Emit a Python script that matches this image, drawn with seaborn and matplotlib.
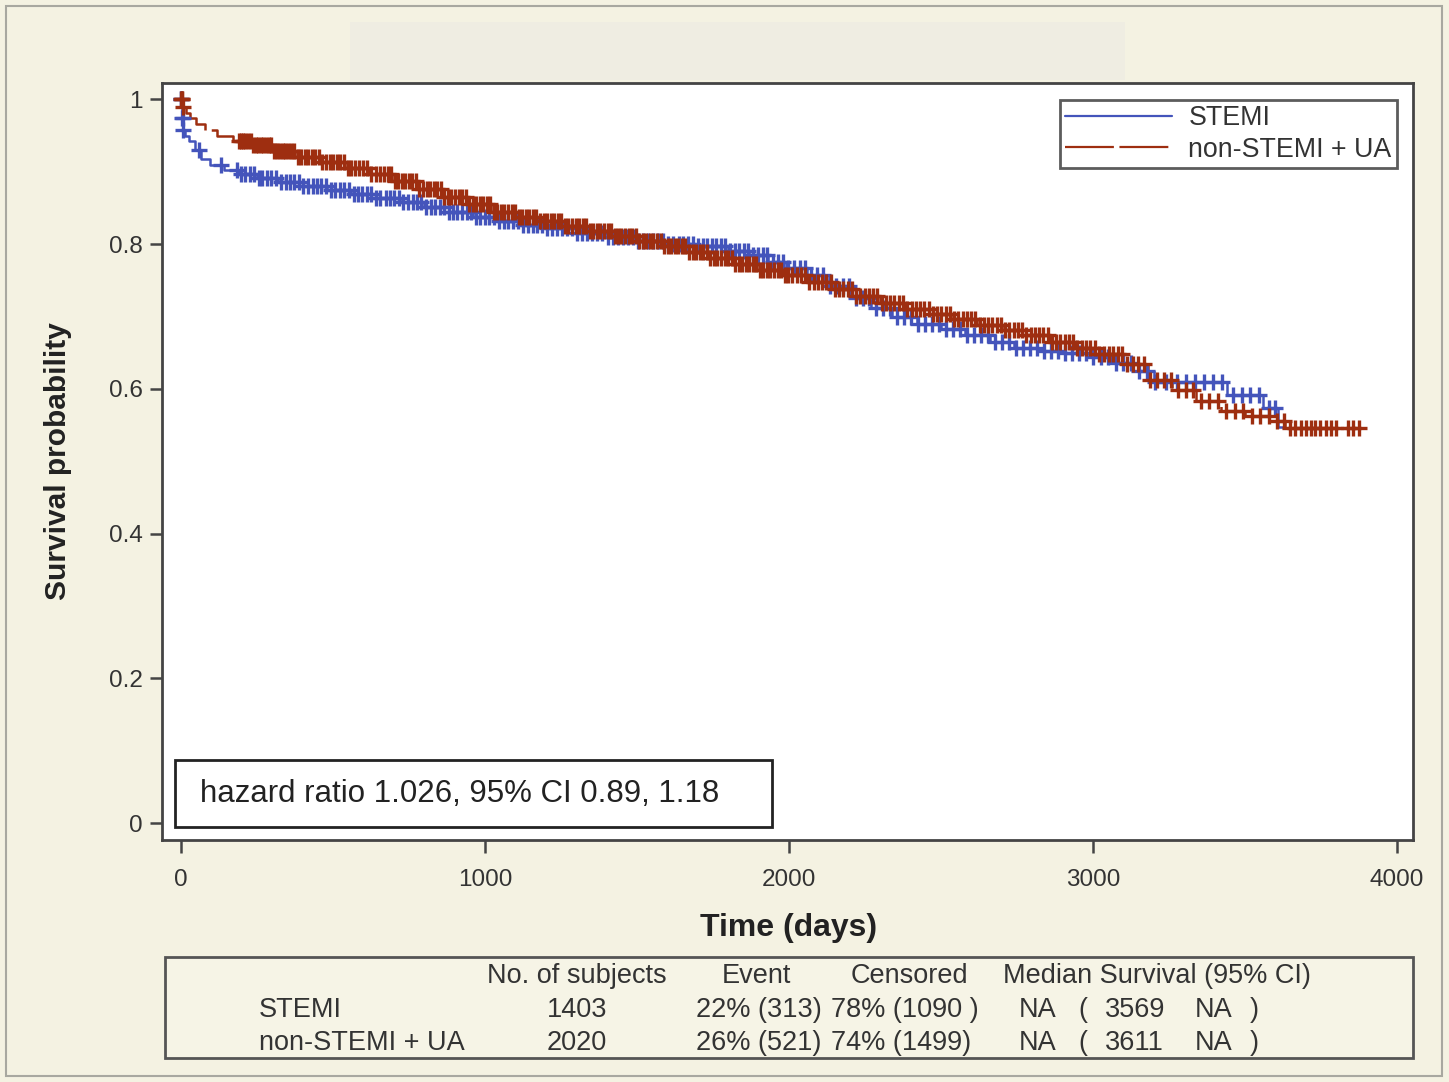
import numpy as np
import pandas as pd
import matplotlib
matplotlib.use("Agg")
import matplotlib.pyplot as plt
from matplotlib.patches import Rectangle
from matplotlib.lines import Line2D
import seaborn as sns

# ---------------- data ----------------
groups = ["STEMI", "non-STEMI + UA"]

stemi_time = [0, 2, 6, 12, 25, 45, 65, 95, 140, 190, 250, 320, 400, 480, 560, 640,
              720, 800, 880, 960, 1040, 1120, 1200, 1300, 1400, 1500, 1600, 1700,
              1800, 1870, 1930, 1990, 2060, 2130, 2200, 2270, 2340, 2420, 2500,
              2580, 2660, 2740, 2820, 2900, 2980, 3060, 3130, 3200, 3440, 3560,
              3610, 3625]
stemi_surv = [1.0, 0.975, 0.958, 0.950, 0.942, 0.930, 0.918, 0.910, 0.903, 0.897,
              0.892, 0.886, 0.880, 0.875, 0.870, 0.864, 0.858, 0.851, 0.845, 0.838,
              0.832, 0.827, 0.822, 0.815, 0.810, 0.805, 0.800, 0.797, 0.791, 0.785,
              0.776, 0.767, 0.757, 0.742, 0.726, 0.712, 0.700, 0.690, 0.683, 0.674,
              0.665, 0.657, 0.653, 0.649, 0.644, 0.636, 0.625, 0.610, 0.592, 0.574,
              0.548, 0.548]

nstemi_time = [0, 5, 15, 30, 50, 80, 120, 170, 230, 300, 380, 460, 540, 620, 700,
               780, 860, 940, 1020, 1100, 1180, 1260, 1340, 1420, 1500, 1580, 1660,
               1740, 1820, 1900, 1980, 2060, 2140, 2220, 2300, 2380, 2460, 2540,
               2620, 2700, 2780, 2860, 2940, 3020, 3100, 3180, 3260, 3340, 3420,
               3500, 3580, 3630, 3880]
nstemi_surv = [1.0, 0.99, 0.982, 0.974, 0.966, 0.958, 0.950, 0.943, 0.937, 0.929,
               0.921, 0.913, 0.905, 0.897, 0.888, 0.876, 0.865, 0.855, 0.845, 0.838,
               0.832, 0.825, 0.818, 0.811, 0.805, 0.797, 0.789, 0.781, 0.773, 0.764,
               0.757, 0.748, 0.738, 0.728, 0.719, 0.711, 0.704, 0.697, 0.689, 0.682,
               0.674, 0.665, 0.657, 0.648, 0.634, 0.612, 0.598, 0.583, 0.570, 0.562,
               0.556, 0.546, 0.546]

stemi_censor = [0, 1, 3, 5, 8, 60, 130, 185, 196, 210, 228, 241, 255, 268, 284, 297,
                313, 330, 346, 358, 371, 388, 402, 419, 433, 447, 462, 478, 494, 507,
                522, 536, 551, 568, 583, 597, 611, 626, 640, 656, 673, 688, 702, 716,
                731, 748, 762, 777, 791, 806, 822, 836, 851, 866, 881, 895, 909, 924,
                940, 955, 969, 984, 999, 1014, 1030, 1046, 1061, 1077, 1092, 1108,
                1124, 1141, 1157, 1172, 1188, 1205, 1221, 1238, 1254, 1270, 1287,
                1303, 1320, 1336, 1353, 1370, 1386, 1403, 1420, 1437, 1453, 1470,
                1487, 1503, 1520, 1537, 1553, 1570, 1586, 1603, 1620, 1637, 1652,
                1668, 1684, 1700, 1716, 1731, 1746, 1761, 1776, 1791, 1806, 1821,
                1836, 1851, 1866, 1881, 1897, 1913, 1929, 1946, 1963, 1980, 1998,
                2016, 2035, 2054, 2073, 2093, 2113, 2134, 2155, 2176, 2198, 2220,
                2242, 2264, 2287, 2310, 2333, 2356, 2379, 2402, 2425, 2448, 2471,
                2494, 2517, 2540, 2563, 2586, 2609, 2632, 2655, 2678, 2701, 2724,
                2747, 2770, 2793, 2816, 2839, 2862, 2885, 2908, 2931, 2954, 2977,
                3000, 3025, 3050, 3075, 3100, 3125, 3150, 3178, 3205, 3240, 3275,
                3305, 3335, 3365, 3395, 3425, 3460, 3490, 3515, 3545, 3580, 3600]
nstemi_censor = [0, 2, 4, 6, 190, 197, 205, 212, 220, 229, 237, 246, 254, 263, 271,
                 280, 289, 297, 306, 316, 325, 334, 343, 353, 362, 373, 384, 396, 407,
                 419, 430, 442, 453, 465, 477, 489, 501, 513, 524, 536, 548, 560, 572,
                 585, 598, 612, 626, 640, 654, 667, 680, 692, 703, 715, 726, 738, 749,
                 761, 773, 784, 796, 808, 819, 831, 843, 854, 866, 878, 889, 901, 913,
                 924, 936, 948, 959, 971, 983, 994, 1006, 1018, 1029, 1041, 1053, 1064,
                 1076, 1088, 1099, 1111, 1123, 1134, 1146, 1158, 1169, 1181, 1193,
                 1204, 1216, 1228, 1239, 1251, 1263, 1274, 1286, 1298, 1309, 1321,
                 1333, 1344, 1356, 1368, 1379, 1391, 1403, 1414, 1426, 1438, 1449,
                 1461, 1473, 1484, 1496, 1508, 1519, 1531, 1543, 1554, 1566, 1578,
                 1589, 1601, 1613, 1624, 1636, 1648, 1659, 1671, 1683, 1694, 1706,
                 1718, 1729, 1741, 1753, 1764, 1776, 1788, 1799, 1811, 1823, 1834,
                 1846, 1858, 1869, 1881, 1893, 1904, 1916, 1928, 1939, 1951, 1963,
                 1974, 1986, 1998, 2011, 2025, 2039, 2053, 2067, 2081, 2095, 2109,
                 2123, 2137, 2151, 2165, 2179, 2193, 2207, 2221, 2235, 2249, 2263,
                 2277, 2291, 2305, 2319, 2333, 2347, 2361, 2375, 2389, 2403, 2417,
                 2431, 2445, 2459, 2473, 2487, 2501, 2515, 2529, 2543, 2557, 2571,
                 2585, 2599, 2613, 2627, 2641, 2655, 2669, 2683, 2697, 2711, 2725,
                 2739, 2753, 2767, 2781, 2795, 2809, 2823, 2837, 2851, 2865, 2879,
                 2893, 2907, 2921, 2935, 2949, 2963, 2977, 2991, 3006, 3021, 3036,
                 3051, 3066, 3081, 3097, 3113, 3131, 3149, 3168, 3188, 3210, 3232,
                 3256, 3280, 3305, 3330, 3356, 3383, 3410, 3438, 3466, 3494, 3522,
                 3550, 3578, 3604, 3628, 3648, 3666, 3683, 3700, 3716, 3731, 3748,
                 3766, 3784, 3800, 3838, 3856, 3874]

x_ticks = [0, 1000, 2000, 3000, 4000]
x_ticklabels = ["0", "1000", "2000", "3000", "4000"]
y_ticks = [0, 0.2, 0.4, 0.6, 0.8, 1.0]
y_ticklabels = ["0", "0.2", "0.4", "0.6", "0.8", "1"]

hr_text = "hazard ratio 1.026, 95% CI 0.89, 1.18"
tbl_header = ["No. of subjects", "Event", "Censored", "Median Survival (95% CI)"]
tbl_rows = ["STEMI", "non-STEMI + UA"]
tbl_subjects = ["1403", "2020"]
tbl_event = ["22% (313)", "26% (521)"]
tbl_censored = ["78% (1090 )", "74% (1499)"]
tbl_median = ["NA", "NA"]
tbl_lower = ["3569", "3611"]
tbl_upper = ["NA", "NA"]

# ---------------- style ----------------
W, H = 1449, 1082
BG = "#f4f2e2"
BLUE = "#4454bb"
RED = "#9e2e10"
SPINE = "#444444"
TXT = "#2e2e2e"

sns.set_theme(style="white")
plt.rcParams["font.family"] = ["Liberation Sans", "DejaVu Sans"]

fig = plt.figure(figsize=(W / 100, H / 100), dpi=100, facecolor=BG)

def fx(px):
    return px / W

def fy(py):
    return 1 - py / H

# outer frame and blank title strip
fig.add_artist(Rectangle((fx(6), fy(1076)), fx(1436), 1070 / H, transform=fig.transFigure,
                         facecolor="none", edgecolor="#a8a8a0", linewidth=1.5))
fig.add_artist(Rectangle((fx(350), fy(80)), fx(775), 58 / H, transform=fig.transFigure,
                         facecolor="#efede2", edgecolor="none"))

ax_l, ax_r, ax_t, ax_b = 162, 1413, 83, 840
ax = fig.add_axes([fx(ax_l), fy(ax_b), fx(ax_r - ax_l), (ax_b - ax_t) / H])
ax.set_facecolor("white")

xpx_per_day = 304 / 1000
x0_px = 181
ax.set_xlim((ax_l - x0_px) / xpx_per_day, (ax_r - x0_px) / xpx_per_day)
ypx = 723.5
y0_px = 823
ax.set_ylim((y0_px - ax_b) / ypx, (y0_px - ax_t) / ypx)

series = [
    (groups[0], stemi_time, stemi_surv, stemi_censor, BLUE, None),
    (groups[1], nstemi_time, nstemi_surv, nstemi_censor, RED, (22, 2.5)),
]

for name, t, s, cens, col, dash in series:
    df = pd.DataFrame({"time": t, "surv": s})
    kw = {}
    if dash is not None:
        kw["dashes"] = dash
    sns.lineplot(data=df, x="time", y="surv", ax=ax, color=col, linewidth=1.8,
                 drawstyle="steps-post", estimator=None, sort=False, **kw)
    t_arr = np.asarray(t)
    s_arr = np.asarray(s)
    idx = np.searchsorted(t_arr, np.asarray(cens), side="right") - 1
    cdf = pd.DataFrame({"time": cens, "surv": s_arr[idx]})
    sns.scatterplot(data=cdf, x="time", y="surv", ax=ax, marker="+", s=130,
                    color=col, linewidth=2.4, zorder=3)

ax.set_xticks(x_ticks)
ax.set_xticklabels(x_ticklabels)
ax.set_yticks(y_ticks)
ax.set_yticklabels(y_ticklabels)
ax.set_xlabel("")
ax.set_ylabel("")
ax.tick_params(axis="both", which="major", direction="out", length=9, width=1.8,
               color=SPINE, labelcolor="#333333", labelsize=17.5, left=True, bottom=True)
ax.tick_params(axis="y", pad=5)
ax.tick_params(axis="x", pad=12)
for sp in ax.spines.values():
    sp.set_color(SPINE)
    sp.set_linewidth(2)

# axis titles
fig.text(fx(789), fy(928), "Time (days)", ha="center", va="center",
         fontsize=23, fontweight="bold", color="#222222")
fig.text(fx(58), fy(461), "Survival probability", ha="center", va="center",
         rotation=90, fontsize=21.5, fontweight="bold", color="#222222")

# legend
handles = [Line2D([0], [0], color=BLUE, linewidth=1.6),
           Line2D([0], [0], color=RED, linewidth=1.6, dashes=(22, 2.5))]
leg = ax.legend(handles, groups, loc="upper right",
                bbox_to_anchor=((1397 - ax_l) / (ax_r - ax_l), (ax_b - 100) / (ax_b - ax_t)),
                borderaxespad=0, fontsize=19.3, frameon=True, fancybox=False,
                handlelength=4.0, handletextpad=0.6, borderpad=0.2, labelspacing=0.2)
leg.get_frame().set_edgecolor("#333333")
leg.get_frame().set_linewidth(2)
for txt in leg.get_texts():
    txt.set_color("#333333")

# hazard ratio box
def axx(px):
    return (px - ax_l) / (ax_r - ax_l)

def axy(py):
    return (ax_b - py) / (ax_b - ax_t)

ax.add_patch(Rectangle((axx(175), axy(827)), axx(772) - axx(175), axy(760) - axy(827),
                       transform=ax.transAxes, facecolor="white", edgecolor="#222222",
                       linewidth=2, zorder=5))
ax.text(axx(200), axy(794), hr_text, transform=ax.transAxes, ha="left", va="center",
        fontsize=22.5, color="#222222", zorder=6)

# summary table
fig.add_artist(Rectangle((fx(165), fy(1058)), fx(1413 - 165), (1058 - 957) / H,
                         transform=fig.transFigure, facecolor="#f6f4e6",
                         edgecolor="#555555", linewidth=2))
tfs = 19.5
tcol = "#333333"
hy = 976
fig.text(fx(577), fy(hy), tbl_header[0], ha="center", va="center", fontsize=tfs, color=tcol)
fig.text(fx(756), fy(hy), tbl_header[1], ha="center", va="center", fontsize=tfs, color=tcol)
fig.text(fx(909), fy(hy), tbl_header[2], ha="center", va="center", fontsize=tfs, color=tcol)
fig.text(fx(1003), fy(hy), tbl_header[3], ha="left", va="center", fontsize=tfs, color=tcol)
for i, ry in enumerate([1010, 1043]):
    fig.text(fx(259), fy(ry), tbl_rows[i], ha="left", va="center", fontsize=tfs, color=tcol)
    fig.text(fx(577), fy(ry), tbl_subjects[i], ha="center", va="center", fontsize=tfs, color=tcol)
    fig.text(fx(696), fy(ry), tbl_event[i], ha="left", va="center", fontsize=tfs, color=tcol)
    fig.text(fx(831), fy(ry), tbl_censored[i], ha="left", va="center", fontsize=tfs, color=tcol)
    fig.text(fx(1019), fy(ry), tbl_median[i], ha="left", va="center", fontsize=tfs, color=tcol)
    fig.text(fx(1078), fy(ry), "(", ha="left", va="center", fontsize=tfs, color=tcol)
    fig.text(fx(1105), fy(ry), tbl_lower[i], ha="left", va="center", fontsize=tfs, color=tcol)
    fig.text(fx(1195), fy(ry), tbl_upper[i], ha="left", va="center", fontsize=tfs, color=tcol)
    fig.text(fx(1250), fy(ry), ")", ha="left", va="center", fontsize=tfs, color=tcol)

fig.savefig("out.png", dpi=100, facecolor=BG)
